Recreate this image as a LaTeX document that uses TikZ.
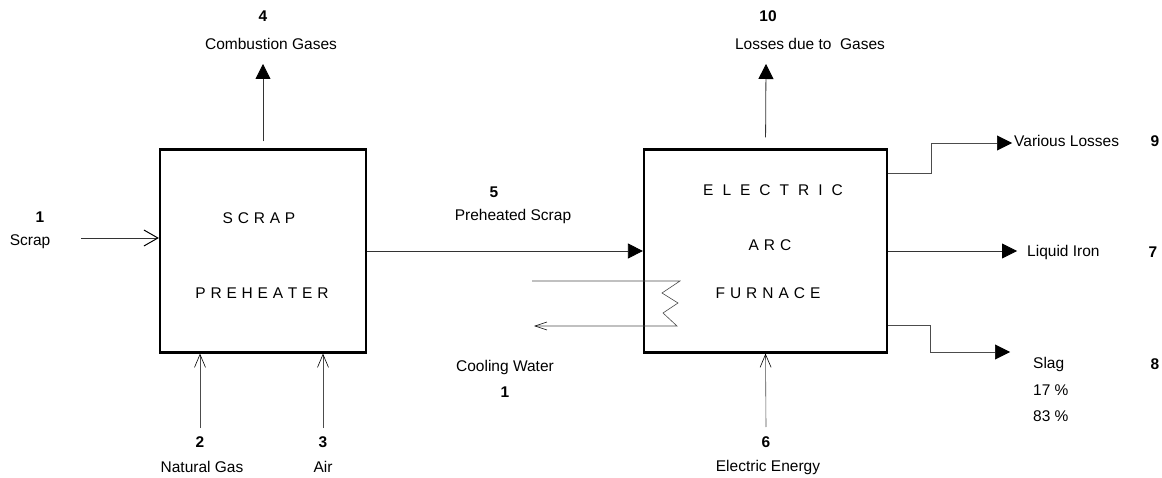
\documentclass[tikz,border=0pt]{standalone}
\usepackage{fontspec}
\setmainfont{Liberation Sans}
\usetikzlibrary{arrows.meta}
\begin{document}
\begin{tikzpicture}[x=1pt,y=-1pt,
  lbl/.style={font=\fontsize{15.5}{18}\selectfont, inner sep=0pt},
  num/.style={font=\fontsize{15.5}{18}\selectfont\bfseries, inner sep=0pt},
  boxtxt/.style={font=\fontsize{15.5}{18}\selectfont, inner sep=0pt},
  unit/.style={draw=black, line width=2.2pt, inner sep=0pt},
  flow/.style={draw=black!80, line width=0.8pt},
  thinflow/.style={draw=black!70, line width=0.6pt},
  bighead/.style={-{Triangle[length=15pt,width=15pt,color=black,fill=black]}},
  openhead/.style={-{Straight Barb[length=14pt,width=16pt,line width=1pt,color=black]}},
  thinhead/.style={-{Straight Barb[length=13pt,width=11pt,color=black]}},
  smallhead/.style={-{Straight Barb[length=12pt,width=8pt,color=black]}}
]
\useasboundingbox (0,0) rectangle (1162,478);

% units
\node[unit, minimum width=206pt, minimum height=203pt] (pre) at (263,251) {};
\node[unit, minimum width=243pt, minimum height=203pt] (eaf) at (765.5,251) {};

% box texts
\node[boxtxt] (t1) at (259,218) {S\hspace{4.8pt}C\hspace{4.8pt}R\hspace{4.8pt}A\hspace{4.8pt}P};
\node[boxtxt] (t2) at (262,293) {P\hspace{4.8pt}R\hspace{4.8pt}E\hspace{4.8pt}H\hspace{4.8pt}E\hspace{4.8pt}A\hspace{4.8pt}T\hspace{4.8pt}E\hspace{4.8pt}R};
\node[boxtxt] (t3) at (773,190) {E\hspace{9pt}L\hspace{9pt}E\hspace{9pt}C\hspace{9pt}T\hspace{9pt}R\hspace{9pt}I\hspace{9pt}C};
\node[boxtxt] (t4) at (770,245) {A\hspace{5pt}R\hspace{5pt}C};
\node[boxtxt] (t5) at (768,293) {F\hspace{5pt}U\hspace{5pt}R\hspace{5pt}N\hspace{5pt}A\hspace{5pt}C\hspace{5pt}E};

% labels
\node[num] (n4) at (263,16) {4};
\node[lbl] (l4) at (271,44) {Combustion Gases};
\node[num] (n10) at (768,16) {10};
\node[lbl] (l10) at (810,44) {Losses due to\ \ Gases};
\node[num] (n1) at (40,217) {1};
\node[lbl] (l1) at (30,242) {Scrap};
\node[num] (n5) at (494,192) {5};
\node[lbl] (l5) at (513,216) {Preheated Scrap};
\node[lbl] (lcw) at (505,367) {Cooling Water};
\node[num] (ncw) at (505,392) {1};
\node[num] (n2) at (200,442) {2};
\node[lbl] (l2) at (202,467) {Natural Gas};
\node[num] (n3) at (323,442) {3};
\node[lbl] (l3) at (323,467) {Air};
\node[num] (n6) at (766,442) {6};
\node[lbl] (l6) at (768,467) {Electric Energy};
\node[lbl, anchor=west] (l9) at (1014,141) {Various Losses};
\node[num] (n9) at (1155,141) {9};
\node[lbl, anchor=west] (l7) at (1027,252) {Liquid Iron};
\node[num] (n7) at (1153,252) {7};
\node[lbl, anchor=west] (l8) at (1033,364) {Slag};
\node[lbl, anchor=west] (p17) at (1033,390) {17 \%};
\node[lbl, anchor=west] (p83) at (1033,416) {83 \%};
\node[num] (n8) at (1155,364) {8};

% free ends
\coordinate (c4) at (263,64);
\coordinate (c10) at (766,64);
\coordinate (cs) at (81,238);
\coordinate (cng) at (200,428);
\coordinate (cair) at (323,428);
\coordinate (cee) at (766,427);
\coordinate (cwin) at (532,281);
\coordinate (cwout) at (534,326);
\coordinate (c9) at (1012,143);
\coordinate (c7) at (1017,251);
\coordinate (c8) at (1010,352);

% connectors
\draw[flow, bighead, shorten <=7pt] (pre.north) -- (c4);
\draw[flow, bighead, shorten <=11pt] (eaf.north) -- (c10);
\draw[flow, openhead] (cs) -- (cs -| pre.west);
\draw[flow, bighead] (pre.east) -- (eaf.west);
\draw[thinflow, thinhead] (cng) -- (cng |- pre.south);
\draw[thinflow, thinhead] (cair) -- (cair |- pre.south);
\draw[thinflow, thinhead] (cee) -- (eaf.south);
\draw[thinflow, smallhead] (cwin) -- (680,281) -- (662,293) -- (678,303) -- (663,313) -- (677,326) -- (cwout);
\draw[thinflow, bighead] (eaf.east |- 0,173) -- (931,173) -- (931,143) -- (c9);
\draw[flow, bighead] (eaf.east) -- (c7);
\draw[thinflow, bighead] (eaf.east |- 0,325) -- (930,325) -- (930,352) -- (c8);
\end{tikzpicture}
\end{document}
